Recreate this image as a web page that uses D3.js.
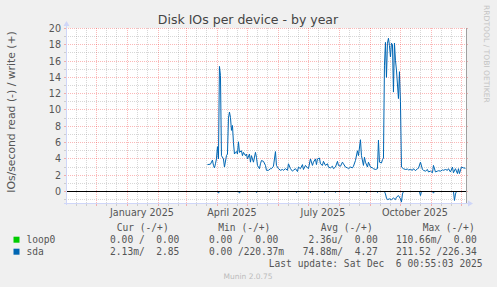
<!DOCTYPE html>
<html><head><meta charset="utf-8">
<script src="https://cdn.jsdelivr.net/npm/d3@7"></script>
<style>
html,body{margin:0;padding:0;background:#f0f0f0;}
svg{display:block;}
text{font-family:"DejaVu Sans",sans-serif;}
.mono{font-family:"DejaVu Sans Mono",monospace;white-space:pre;}
</style></head><body>
<svg id="c" width="497" height="287"></svg>
<script>
// ---------- data ----------
const chartTitle = "Disk IOs per device - by year";
const yAxisLabel = "IOs/second read (-) / write (+)";
const yTicks = [0, 2, 4, 6, 8, 10, 12, 14, 16, 18, 20];
const yMinor = [-1, 1, 3, 5, 7, 9, 11, 13, 15, 17, 19];
const yDomain = [-1.4724, 20];
const timeStart = "2024-11-01T00:55:03Z";
const timeEnd = "2025-12-06T00:55:03Z";
const monthLabels = ["January 2025", "April 2025", "July 2025", "October 2025"];
const monthLabelDates = ["2025-01-01", "2025-04-01", "2025-07-01", "2025-10-01"];

const sdaWriteDates = [
"2025-03-22","2025-03-25","2025-03-27","2025-03-28","2025-03-29","2025-03-30","2025-03-31",
"2025-04-01","2025-04-02","2025-04-03","2025-04-04","2025-04-05","2025-04-07","2025-04-08",
"2025-04-10","2025-04-11","2025-04-12","2025-04-13","2025-04-14","2025-04-15","2025-04-16",
"2025-04-17","2025-04-18","2025-04-19","2025-04-20","2025-04-21","2025-04-22","2025-04-23",
"2025-04-25","2025-04-26","2025-04-27","2025-04-29","2025-04-30","2025-05-01","2025-05-03",
"2025-05-04","2025-05-05","2025-05-07","2025-05-09","2025-05-10","2025-05-11","2025-05-13",
"2025-05-14","2025-05-15","2025-05-17","2025-05-19","2025-05-20","2025-05-22","2025-05-24",
"2025-05-25","2025-05-27","2025-05-29","2025-05-30","2025-06-01","2025-06-03","2025-06-05",
"2025-06-06","2025-06-08","2025-06-10","2025-06-11","2025-06-13","2025-06-15","2025-06-16",
"2025-06-18","2025-06-20","2025-06-21","2025-06-23","2025-06-25","2025-06-26","2025-06-28",
"2025-06-30","2025-07-01","2025-07-03","2025-07-05","2025-07-06","2025-07-08","2025-07-09",
"2025-07-10","2025-07-12","2025-07-13","2025-07-15","2025-07-16","2025-07-18","2025-07-20",
"2025-07-21","2025-07-23","2025-07-25","2025-07-26","2025-07-28","2025-07-30","2025-07-31",
"2025-08-02","2025-08-04","2025-08-05","2025-08-07","2025-08-09","2025-08-10","2025-08-12",
"2025-08-14","2025-08-15","2025-08-17","2025-08-19","2025-08-20","2025-08-22","2025-08-23",
"2025-08-25","2025-08-26","2025-08-27","2025-08-29","2025-08-30","2025-09-01","2025-09-03",
"2025-09-04","2025-09-06","2025-09-08","2025-09-09","2025-09-10","2025-09-12","2025-09-13",
"2025-09-14","2025-09-15","2025-09-16","2025-09-17","2025-09-18","2025-09-19","2025-09-20",
"2025-09-21","2025-09-22","2025-09-23","2025-09-24","2025-09-25","2025-09-26","2025-09-27",
"2025-09-29","2025-09-30","2025-10-01","2025-10-02","2025-10-04","2025-10-06","2025-10-08",
"2025-10-09","2025-10-11","2025-10-13","2025-10-14","2025-10-16","2025-10-18","2025-10-19",
"2025-10-21","2025-10-23","2025-10-24","2025-10-26","2025-10-28","2025-10-29","2025-10-31",
"2025-11-02","2025-11-03","2025-11-05","2025-11-07","2025-11-08","2025-11-10","2025-11-12",
"2025-11-13","2025-11-15","2025-11-17","2025-11-18","2025-11-20","2025-11-22","2025-11-23",
"2025-11-25","2025-11-27","2025-11-28","2025-11-29","2025-12-01","2025-12-03","2025-12-05"];
const sdaWriteValues = [
3.3,3.35,3.85,3.2,2.9,3.4,4.0,
5.5,4.0,15.35,14.25,4.4,4.0,3.0,
4.4,4.6,9.0,9.75,9.1,7.5,8.1,
6.0,4.6,4.8,4.9,4.6,6.1,4.8,
5.0,4.4,4.8,4.4,4.6,4.0,4.6,
3.6,4.4,3.6,4.8,4.2,3.2,2.8,
3.4,3.8,3.7,3.2,2.6,2.6,2.8,
2.8,3.1,4.9,3.2,2.8,2.6,2.7,
2.6,2.8,2.6,3.4,2.8,2.5,2.6,
2.8,2.45,3.0,2.8,3.3,2.7,3.2,
2.9,2.8,4.0,3.2,3.6,4.0,3.3,
4.0,4.1,3.4,3.2,3.7,3.2,3.4,
3.0,2.9,3.1,2.8,3.0,3.7,3.2,
3.1,3.6,3.4,3.0,2.9,2.8,3.0,
2.9,3.1,3.8,5.0,4.4,6.35,4.4,
3.2,4.2,3.6,3.0,3.6,3.0,2.9,
2.8,2.7,2.8,6.3,3.6,3.5,3.9,
4.1,15.5,18.3,14.0,18.2,18.8,17.9,
16.5,18.2,18.0,12.2,18.2,16.1,14.9,
11.4,14.7,11.0,3.0,2.8,2.7,2.75,
2.65,2.7,2.6,2.8,2.55,2.8,2.85,
3.6,2.7,2.6,2.5,2.7,2.4,2.5,
2.3,3.2,2.4,2.5,2.55,2.5,2.65,
2.6,2.7,2.6,2.8,2.4,3.0,2.3,
2.8,2.2,2.8,2.2,3.0,2.9,2.85];

// sda read (drawn on the negative side)
const sdaReadDates = [
"2025-03-22","2025-04-01","2025-04-02","2025-04-03","2025-04-22","2025-04-23","2025-04-24",
"2025-05-09","2025-05-10","2025-05-11","2025-05-22","2025-05-23","2025-05-24",
"2025-06-18","2025-06-19","2025-06-20","2025-07-02","2025-07-03","2025-07-04",
"2025-07-16","2025-07-17","2025-07-18","2025-07-27","2025-07-28","2025-07-29",
"2025-08-10","2025-08-11","2025-08-12","2025-08-27","2025-08-28","2025-08-29",
"2025-09-07","2025-09-08","2025-09-09","2025-09-15","2025-09-16","2025-09-17","2025-09-18",
"2025-09-20","2025-09-22","2025-09-24","2025-09-26","2025-09-27","2025-09-29","2025-10-01",
"2025-10-02","2025-10-03","2025-10-04","2025-10-20","2025-10-21","2025-10-22",
"2025-11-02","2025-11-03","2025-11-04","2025-11-23","2025-11-24","2025-11-25","2025-11-26",
"2025-12-05"];
const sdaReadValues = [
0,0,0.2,0,0,0.2,0,
0,0.12,0,0,0.1,0,
0,0.1,0,0,0.12,0,
0,0.1,0,0,0.1,0,
0,0.1,0,0,0.1,0,
0,0.12,0,0,0.3,0.8,1.0,
0.9,1.0,0.8,1.0,0.7,0.5,0.9,
1.3,0.3,0,0,0.5,0,
0,0.2,0,0,1.1,0.3,0,
0];

const loop0Dates = ["2024-11-01", "2025-12-05"];
const loop0Values = [0, 0];

const legendNames = ["loop0", "sda"];
const legendHeaders = ["Cur (-/+)", "Min (-/+)", "Avg (-/+)", "Max (-/+)"];
const legendCur = ["  0.00 /  0.00 ", "  2.13m/  2.85 "];
const legendMin = ["  0.00 /  0.00 ", "  0.00 /220.37m"];
const legendAvg = ["  2.36u/  0.00 ", " 74.88m/  4.27 "];
const legendMax = ["110.66m/  0.00 ", "211.52 /226.34 "];
const lastUpdate = "Last update: Sat Dec  6 00:55:03 2025";
const credit = "Munin 2.0.75";
const watermark = "RRDTOOL / TOBI OETIKER";

// ---------- styles ----------
const colLoop0 = "#00cc00", colSda = "#0066b3";
const seriesColors = [colLoop0, colSda];
const gridCol = "rgba(140,140,140,0.35)", mgridCol = "rgba(240,0,0,0.28)";
const axisCol = "#cfd6f8", textCol = "#555";

// ---------- drawing ----------
const svg = d3.select("#c");
const parse = d3.utcParse("%Y-%m-%d");
const t0 = new Date(timeStart), t1 = new Date(timeEnd);
const L = 66, R = 466, T = 28, B = 203;
const x = d3.scaleUtc().domain([t0, t1]).range([L, R]);
const y = d3.scaleLinear().domain(yDomain).range([B, T]);
const px = v => Math.round(v) + 0.5;

svg.append("rect").attr("width", 497).attr("height", 287).attr("fill", "#f0f0f0");
svg.append("rect").attr("x", L).attr("y", T).attr("width", R - L).attr("height", B - T).attr("fill", "#fff");

const g = svg.append("g");
// horizontal grid
yMinor.forEach(v => {
  g.append("line").attr("x1", L).attr("x2", R).attr("y1", px(y(v))).attr("y2", px(y(v)))
    .attr("stroke", gridCol).attr("stroke-dasharray", "1,1");
  g.append("line").attr("x1", L - 2).attr("x2", L).attr("y1", px(y(v))).attr("y2", px(y(v))).attr("stroke", gridCol);
});
yTicks.forEach(v => {
  g.append("line").attr("x1", L).attr("x2", R).attr("y1", px(y(v))).attr("y2", px(y(v)))
    .attr("stroke", mgridCol).attr("stroke-dasharray", "1,1");
  g.append("line").attr("x1", L - 2).attr("x2", L).attr("y1", px(y(v))).attr("y2", px(y(v))).attr("stroke", mgridCol);
  g.append("line").attr("x1", R).attr("x2", R + 2).attr("y1", px(y(v))).attr("y2", px(y(v))).attr("stroke", mgridCol);
});
// vertical grid
const months = d3.utcMonth.range(d3.utcMonth.floor(t0), t1);
const minorDays = [];
months.forEach(m => { minorDays.push(d3.utcDay.offset(m, 10), d3.utcDay.offset(m, 20)); });
minorDays.filter(d => d > t0 && d < t1).forEach(d => {
  const xx = px(x(d));
  g.append("line").attr("x1", xx).attr("x2", xx).attr("y1", T).attr("y2", B)
    .attr("stroke", gridCol).attr("stroke-dasharray", "1,1");
  g.append("line").attr("x1", xx).attr("x2", xx).attr("y1", B).attr("y2", B + 3).attr("stroke", gridCol);
});
months.filter(d => d > t0 && d < t1).forEach(d => {
  const xx = px(x(d));
  g.append("line").attr("x1", xx).attr("x2", xx).attr("y1", T).attr("y2", B)
    .attr("stroke", mgridCol).attr("stroke-dasharray", "1,1");
  g.append("line").attr("x1", xx).attr("x2", xx).attr("y1", B).attr("y2", B + 3).attr("stroke", mgridCol);
});

// right frame line
svg.append("line").attr("x1", R + 0.5).attr("x2", R + 0.5).attr("y1", T).attr("y2", B).attr("stroke", "#a0a0a0");

// series (offset half a pixel so lines sit on pixel centres)
const line = d3.line().x(d => x(d[0])).y(d => y(d[1]));
const loop0 = loop0Dates.map((d, i) => [parse(d), loop0Values[i]]);
const sdaW = sdaWriteDates.map((d, i) => [parse(d), sdaWriteValues[i]]);
const sdaR = sdaReadDates.map((d, i) => [parse(d), -sdaReadValues[i]]);
const sg = svg.append("g").attr("transform", "translate(0.5,0.5)");
sg.append("path").attr("d", line(loop0)).attr("fill", "none").attr("stroke", colLoop0).attr("stroke-width", 1);
sg.append("path").attr("d", line(sdaR)).attr("fill", "none").attr("stroke", colSda).attr("stroke-width", 1);
sg.append("path").attr("d", line(sdaW)).attr("fill", "none").attr("stroke", colSda).attr("stroke-width", 1);

// zero rule
svg.append("line").attr("x1", L).attr("x2", R).attr("y1", px(y(0))).attr("y2", px(y(0))).attr("stroke", "#000");

// axes
svg.append("line").attr("x1", L + 0.5).attr("x2", L + 0.5).attr("y1", B + 2).attr("y2", T - 4).attr("stroke", axisCol);
svg.append("path").attr("d", `M${L - 2.5},${T - 2}L${L + 3.5},${T - 2}L${L + 0.5},${T - 7}Z`).attr("fill", axisCol);
svg.append("line").attr("x1", L - 2).attr("x2", R + 3).attr("y1", B + 0.5).attr("y2", B + 0.5).attr("stroke", axisCol);
svg.append("path").attr("d", `M${R + 2},${B - 2.5}L${R + 2},${B + 3.5}L${R + 7},${B + 0.5}Z`).attr("fill", axisCol);

// y tick labels
yTicks.forEach(v => {
  svg.append("text").attr("x", 61).attr("y", px(y(v)) + 3.3).attr("text-anchor", "end")
    .attr("font-size", 9.6).attr("fill", textCol).text(v);
});
// x labels
monthLabels.forEach((s, i) => {
  svg.append("text").attr("x", x(d3.utcDay.offset(parse(monthLabelDates[i]), 15))).attr("y", 216)
    .attr("text-anchor", "middle").attr("font-size", 9.6).attr("fill", textCol).text(s);
});

// title
svg.append("text").attr("x", 248).attr("y", 24).attr("text-anchor", "middle")
  .attr("font-size", 12.5).attr("fill", "#444").text(chartTitle);
// y axis label
svg.append("text").attr("transform", "translate(14.7,112) rotate(-90)").attr("text-anchor", "middle")
  .attr("font-size", 10.8).attr("fill", textCol).text(yAxisLabel);
// watermark
svg.append("text").attr("transform", "translate(483.5,5) rotate(90)").attr("text-anchor", "start")
  .attr("font-size", 7.6).attr("fill", "#c4c4c4").text(watermark);

// legend
const headerX = [116.7, 218.3, 320.7, 422.7];
legendHeaders.forEach((h, i) => {
  svg.append("text").attr("class", "mono").attr("x", headerX[i]).attr("y", 230.7)
    .attr("font-size", 9.6).attr("fill", textCol).text(h);
});
const colX = [98.5, 197.5, 296.9, 396];
const rowY = [242.7, 254.7];
legendNames.forEach((n, i) => {
  svg.append("rect").attr("x", 13.5).attr("y", rowY[i] - 6).attr("width", 6).attr("height", 6).attr("fill", seriesColors[i]);
  svg.append("text").attr("class", "mono").attr("x", 26.5).attr("y", rowY[i]).attr("font-size", 9.6).attr("fill", textCol).text(n);
  [legendCur, legendMin, legendAvg, legendMax].forEach((arr, j) => {
    svg.append("text").attr("class", "mono").attr("xml:space", "preserve").attr("x", colX[j]).attr("y", rowY[i])
      .attr("font-size", 9.6).attr("fill", textCol).text(arr[i]);
  });
});
svg.append("text").attr("class", "mono").attr("xml:space", "preserve").attr("x", 482.5).attr("y", 266.5)
  .attr("text-anchor", "end").attr("font-size", 9.6).attr("fill", textCol).text(lastUpdate);
svg.append("text").attr("x", 248).attr("y", 279.3).attr("text-anchor", "middle")
  .attr("font-size", 7.5).attr("fill", "#bbb").text(credit);
</script>
</body></html>
